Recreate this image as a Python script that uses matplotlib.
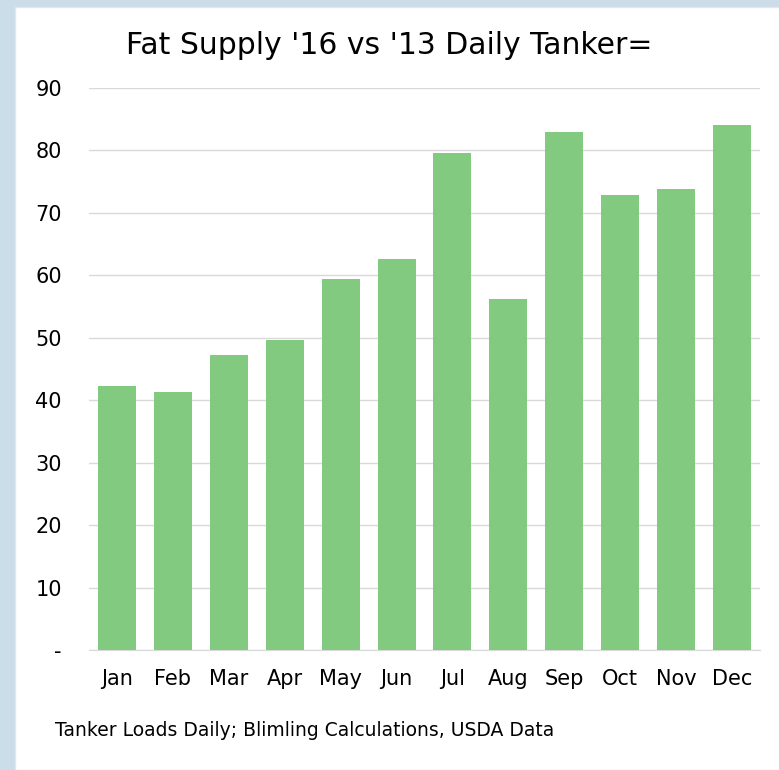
import matplotlib.pyplot as plt
from matplotlib.patches import Rectangle

months = ['Jan', 'Feb', 'Mar', 'Apr', 'May', 'Jun', 'Jul', 'Aug', 'Sep', 'Oct', 'Nov', 'Dec']
loads = [42.3, 41.3, 47.2, 49.6, 59.4, 62.6, 79.6, 56.2, 83.0, 72.9, 73.8, 84.1]
yticks = [0, 10, 20, 30, 40, 50, 60, 70, 80, 90]
ylabels = ['-', '10', '20', '30', '40', '50', '60', '70', '80', '90']

plt.rcParams['font.family'] = ['DejaVu Sans']

fig = plt.figure(figsize=(7.79, 7.70), dpi=100, facecolor='#CCDDEA')
fig.patches.append(Rectangle((15 / 779, 0), 1, 1 - 7 / 770, transform=fig.transFigure,
                             facecolor='white', edgecolor='#E6E6E6', lw=1, zorder=-1))

ax = fig.add_axes([89 / 779, 1 - 650 / 770, (760 - 89) / 779, (650 - 88) / 770])
ax.set_zorder(2)
ax.set_facecolor('none')
ax.bar(range(len(months)), loads, width=0.68, color='#81CA80', zorder=3)

ax.set_xlim(-0.5, len(months) - 0.5)
ax.set_ylim(0, 90)
ax.set_yticks(yticks)
ax.set_yticklabels(ylabels)
ax.set_xticks(range(len(months)))
ax.set_xticklabels(months)
ax.tick_params(axis='both', length=0, labelsize=15)
ax.tick_params(axis='y', pad=19.5)
ax.tick_params(axis='x', pad=13.5)
ax.grid(axis='y', color='#D9D9D9', lw=1, zorder=0)
for s in ['top', 'right', 'left']:
    ax.spines[s].set_visible(False)
ax.spines['bottom'].set_color('#D9D9D9')

fig.text(0.5, 1 - 45 / 770, "Fat Supply '16 vs '13 Daily Tanker=", ha='center', va='center', fontsize=21.5)
fig.text(55 / 779, 1 - 731 / 770, 'Tanker Loads Daily; Blimling Calculations, USDA Data',
         ha='left', va='center', fontsize=13.5)

fig.savefig('out.png', dpi=100, facecolor=fig.get_facecolor())
